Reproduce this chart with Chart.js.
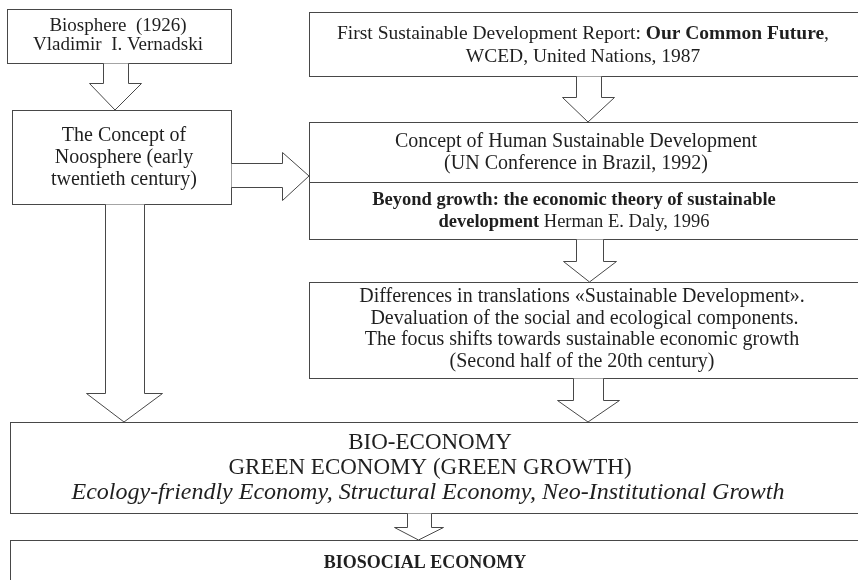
<!DOCTYPE html>
<html lang="en">
<head>
    <meta charset="utf-8" />
    <title>Biosocial economy scheme</title>
    <script src="https://cdn.jsdelivr.net/npm/chart.js@4.4.1/dist/chart.umd.min.js"></script>
    <style>
        html, body { margin: 0; padding: 0; background: #fff; }
        #wrap { width: 858px; height: 580px; overflow: hidden; }
    </style>
</head>
<body>
    <div id="wrap"><canvas id="flow" width="858" height="580"></canvas></div>
    <script>
        // Box texts (** marks bold runs)
        const biosphereLines = ['Biosphere  (1926)', 'Vladimir  I. Vernadski'];
        const noosphereLines = ['The Concept of', 'Noosphere (early', 'twentieth century)'];
        const reportLines = ['First Sustainable Development Report: **Our Common Future**,', 'WCED, United Nations, 1987'];
        const humanLines = ['Concept of Human Sustainable Development', '(UN Conference in Brazil, 1992)'];
        const beyondLines = ['**Beyond growth: the economic theory of sustainable**', '**development** Herman E. Daly, 1996'];
        const translationLines = [
            'Differences in translations «Sustainable Development».',
            ' Devaluation of the social and ecological components.',
            'The focus shifts towards sustainable economic growth',
            '(Second half of the 20th century)'
        ];
        const bioLines = ['BIO-ECONOMY', 'GREEN ECONOMY (GREEN GROWTH)'];
        const bioItalicLines = ['Ecology-friendly Economy, Structural Economy, Neo-Institutional Growth'];
        const biosocialLines = ['**BIOSOCIAL ECONOMY**'];

        const FONT = '"Liberation Serif", "DejaVu Serif", serif';
        const INK = '#1f1f1f';
        const EDGE = '#484848';

        // layout in chart units (x: 0..858, y: 0..580 top-down)
        const boxes = [
            { x0: 7, y0: 9, x1: 231, y1: 63, cx: 118, cy: 36, size: 19, lh: 19, lines: biosphereLines },
            { x0: 12, y0: 110, x1: 231, y1: 204, cx: 124, cy: 158, size: 20, lh: 22, lines: noosphereLines },
            { x0: 309, y0: 12, x1: 870, y1: 76, cx: 583, cy: 45, size: 19.5, lh: 23, lines: reportLines },
            { x0: 309, y0: 122, x1: 870, y1: 182, cx: 576, cy: 153, size: 20, lh: 22, lines: humanLines },
            { x0: 309, y0: 182, x1: 870, y1: 239, cx: 574, cy: 211, size: 18.5, lh: 22, lines: beyondLines },
            { x0: 309, y0: 282, x1: 870, y1: 378, cx: 582, cy: 329, size: 20, lh: 21.5, lines: translationLines },
            { x0: 10, y0: 422, x1: 870, y1: 513, cx: 430, cy: 455, size: 23, lh: 25, lines: bioLines },
            { x0: 10, y0: 540, x1: 870, y1: 600, cx: 425, cy: 563, size: 18, lh: 20, lines: biosocialLines }
        ];
        const italicBlock = { cx: 428, cy: 493, size: 24, lines: bioItalicLines };

        // block arrows: shaft [sx0,sx1], head [hx0,hx1], y start / head start / tip
        const downArrows = [
            { sx0: 103, sx1: 128, hx0: 89, hx1: 141, y0: 63, yh: 83, yt: 110 },
            { sx0: 576, sx1: 601, hx0: 562, hx1: 614, y0: 76, yh: 97, yt: 122 },
            { sx0: 576, sx1: 603, hx0: 563, hx1: 616, y0: 239, yh: 261, yt: 282 },
            { sx0: 573, sx1: 603, hx0: 557, hx1: 619, y0: 378, yh: 400, yt: 422 },
            { sx0: 105, sx1: 144, hx0: 86, hx1: 162, y0: 204, yh: 393, yt: 422 },
            { sx0: 407, sx1: 431, hx0: 394, hx1: 443, y0: 513, yh: 527, yt: 540 }
        ];
        const rightArrow = { sy0: 163, sy1: 187, hy0: 152, hy1: 200, x0: 231, xh: 282, xt: 309 };

        function parseRuns(line) {
            const parts = line.split('**');
            return parts.map((t, i) => ({ text: t, bold: i % 2 === 1 })).filter(r => r.text.length);
        }

        function drawRich(ctx, line, cx, cy, size, italic) {
            const runs = parseRuns(line);
            const fontOf = r => (italic ? 'italic ' : '') + (r.bold ? 'bold ' : '') + size + 'px ' + FONT;
            let total = 0;
            runs.forEach(r => { ctx.font = fontOf(r); r.w = ctx.measureText(r.text).width; total += r.w; });
            let xPos = cx - total / 2;
            runs.forEach(r => {
                ctx.font = fontOf(r);
                ctx.fillText(r.text, xPos, cy);
                xPos += r.w;
            });
        }

        const flowPlugin = {
            id: 'flow',
            afterDraw(chart) {
                const { ctx, scales: { x, y } } = chart;
                const px = v => Math.round(x.getPixelForValue(v)) + 0.5;
                const py = v => Math.round(y.getPixelForValue(v)) + 0.5;
                ctx.save();
                ctx.fillStyle = '#fff';
                ctx.fillRect(0, 0, chart.width, chart.height);
                ctx.lineWidth = 1;
                ctx.strokeStyle = EDGE;

                boxes.forEach(b => {
                    ctx.strokeRect(px(b.x0), py(b.y0), px(b.x1) - px(b.x0), py(b.y1) - py(b.y0));
                });

                downArrows.forEach(a => {
                    ctx.beginPath();
                    ctx.moveTo(px(a.sx0), py(a.y0));
                    ctx.lineTo(px(a.sx0), py(a.yh));
                    ctx.lineTo(px(a.hx0), py(a.yh));
                    ctx.lineTo(x.getPixelForValue((a.hx0 + a.hx1) / 2), y.getPixelForValue(a.yt));
                    ctx.lineTo(px(a.hx1), py(a.yh));
                    ctx.lineTo(px(a.sx1), py(a.yh));
                    ctx.lineTo(px(a.sx1), py(a.y0));
                    ctx.fillStyle = '#fff';
                    ctx.fill();
                    ctx.stroke();
                });

                const r = rightArrow;
                ctx.beginPath();
                ctx.moveTo(px(r.x0), py(r.sy0));
                ctx.lineTo(px(r.xh), py(r.sy0));
                ctx.lineTo(px(r.xh), py(r.hy0));
                ctx.lineTo(x.getPixelForValue(r.xt), y.getPixelForValue((r.hy0 + r.hy1) / 2));
                ctx.lineTo(px(r.xh), py(r.hy1));
                ctx.lineTo(px(r.xh), py(r.sy1));
                ctx.lineTo(px(r.x0), py(r.sy1));
                ctx.fillStyle = '#fff';
                ctx.fill();
                ctx.stroke();

                ctx.fillStyle = INK;
                ctx.textAlign = 'left';
                ctx.textBaseline = 'middle';
                boxes.forEach(b => {
                    const n = b.lines.length;
                    b.lines.forEach((line, i) => {
                        const cy = b.cy + (i - (n - 1) / 2) * b.lh;
                        drawRich(ctx, line, x.getPixelForValue(b.cx), y.getPixelForValue(cy), b.size, false);
                    });
                });
                italicBlock.lines.forEach(line => {
                    drawRich(ctx, line, x.getPixelForValue(italicBlock.cx), y.getPixelForValue(italicBlock.cy), italicBlock.size, true);
                });
                ctx.restore();
            }
        };

        new Chart(document.getElementById('flow'), {
            type: 'scatter',
            data: { datasets: [{ data: [], pointRadius: 0 }] },
            options: {
                responsive: false,
                animation: false,
                layout: { padding: 0 },
                plugins: { legend: { display: false }, tooltip: { enabled: false } },
                scales: {
                    x: { type: 'linear', min: 0, max: 858, display: false },
                    y: { type: 'linear', min: 0, max: 580, reverse: true, display: false }
                }
            },
            plugins: [flowPlugin]
        });
    </script>
</body>
</html>
